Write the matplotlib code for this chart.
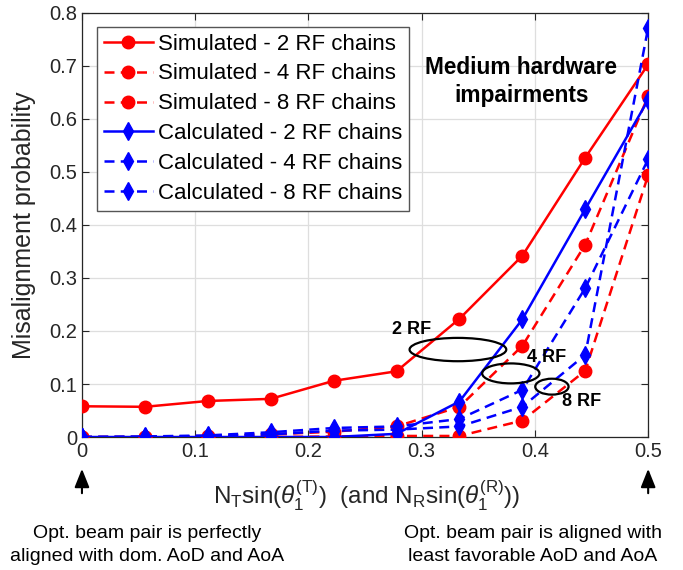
import matplotlib
matplotlib.use("Agg")
import matplotlib.pyplot as plt
from matplotlib.patches import Ellipse

plt.rcParams['font.family'] = ['Liberation Sans', 'DejaVu Sans']
plt.rcParams['mathtext.fontset'] = 'custom'
plt.rcParams['mathtext.rm'] = 'Liberation Sans'
plt.rcParams['mathtext.it'] = 'Liberation Sans:italic'

x = [0/18, 1/18, 2/18, 3/18, 4/18, 5/18, 6/18, 7/18, 8/18, 9/18]
sim2 = [0.058, 0.057, 0.068, 0.072, 0.106, 0.124, 0.223, 0.342, 0.527, 0.703]
sim4 = [0.0, 0.0, 0.002, 0.005, 0.010, 0.020, 0.057, 0.172, 0.363, 0.643]
sim8 = [0.0, 0.0, 0.0, 0.0, 0.001, 0.002, 0.002, 0.031, 0.125, 0.494]
cal2 = [0.0, 0.0, 0.0, 0.0, 0.0, 0.006, 0.067, 0.222, 0.430, 0.636]
cal4 = [0.0, 0.001, 0.003, 0.009, 0.017, 0.020, 0.034, 0.089, 0.281, 0.524]
cal8 = [0.0, 0.0, 0.001, 0.005, 0.012, 0.014, 0.020, 0.057, 0.155, 0.772]
labels = ["Simulated - 2 RF chains", "Simulated - 4 RF chains", "Simulated - 8 RF chains",
          "Calculated - 2 RF chains", "Calculated - 4 RF chains", "Calculated - 8 RF chains"]
xticks = [0, 0.1, 0.2, 0.3, 0.4, 0.5]
yticks = [0, 0.1, 0.2, 0.3, 0.4, 0.5, 0.6, 0.7, 0.8]

fig = plt.figure(figsize=(6.83, 5.70), dpi=100)
ax = fig.add_axes([0.120, 0.2333, 0.829, 0.744])

red = '#ff0000'
blue = '#0000ff'
lw = 1.8
dash = (4, 2.5)
ax.plot(x, sim2, '-', color=red, lw=lw, marker='o', ms=9, label=labels[0], zorder=3)
ax.plot(x, sim4, '--', color=red, lw=lw, marker='o', ms=9, dashes=dash, label=labels[1], zorder=3)
ax.plot(x, sim8, '--', color=red, lw=lw, marker='o', ms=9, dashes=dash, label=labels[2], zorder=3)
ax.plot(x, cal2, '-', color=blue, lw=lw, marker='d', ms=8.7, label=labels[3], zorder=3)
ax.plot(x, cal4, '--', color=blue, lw=lw, marker='d', ms=8.7, dashes=dash, label=labels[4], zorder=3)
ax.plot(x, cal8, '--', color=blue, lw=lw, marker='d', ms=8.7, dashes=dash, label=labels[5], zorder=3)

ax.set_xlim(0, 0.5)
ax.set_ylim(0, 0.8)
ax.set_xticks(xticks)
ax.set_yticks(yticks)
ax.set_xticklabels(['0', '0.1', '0.2', '0.3', '0.4', '0.5'])
ax.set_yticklabels(['0', '0.1', '0.2', '0.3', '0.4', '0.5', '0.6', '0.7', '0.8'])
ax.tick_params(direction='in', length=5, width=0.8, labelsize=14.5, top=True, right=True,
               colors='#262626', labelcolor='#262626')
ax.grid(True, color='#dedede', lw=0.9)
ax.set_axisbelow(True)
for s in ax.spines.values():
    s.set_color('#262626')
    s.set_linewidth(0.9)

ax.set_ylabel('Misalignment probability', fontsize=18, color='#262626')
ax.yaxis.set_label_coords(-0.081, 0.5)
ax.set_xlabel(r'N$_\mathrm{T}$sin($\theta_1^{\mathrm{(T)}}$)  (and N$_\mathrm{R}$sin($\theta_1^{\mathrm{(R)}}$))',
              fontsize=17.5, color='#262626')
ax.xaxis.set_label_coords(0.502, -0.097)

leg = ax.legend(loc='upper left', bbox_to_anchor=(0.027, 0.967), fontsize=16, frameon=True,
                fancybox=False, edgecolor='#555555', framealpha=1, borderpad=0.3,
                labelspacing=0.4, handlelength=2.2, handletextpad=0.25, borderaxespad=0)
leg.get_frame().set_linewidth(1.0)

ax.text(0.388, 0.671, 'Medium hardware\nimpairments', fontsize=16.3, fontweight='bold',
        ha='center', va='center', linespacing=1.25)

ell_kw = dict(fill=False, edgecolor='black', lw=1.6, zorder=4)
ax.add_patch(Ellipse((0.332, 0.165), 0.0854, 0.044, **ell_kw))
ax.add_patch(Ellipse((0.3787, 0.120), 0.0506, 0.0377, **ell_kw))
ax.add_patch(Ellipse((0.415, 0.095), 0.0294, 0.030, **ell_kw))
ax.text(0.291, 0.203, '2 RF', fontsize=13, fontweight='bold', ha='center', va='center', zorder=5)
ax.text(0.4105, 0.150, '4 RF', fontsize=13, fontweight='bold', ha='center', va='center', zorder=5)
ax.text(0.441, 0.067, '8 RF', fontsize=13, fontweight='bold', ha='center', va='center', zorder=5)

# arrows under the axis at x=0 and x=0.5
for xa in (0.0, 0.5):
    ax.annotate('', xy=(xa, -0.060), xytext=(xa, -0.106), xycoords='data', textcoords='data',
                arrowprops=dict(arrowstyle='-|>,head_length=0.7,head_width=0.28', color='black',
                                lw=1.5, mutation_scale=16, shrinkA=0, shrinkB=0),
                annotation_clip=False)

fig.text(147/683, 1 - 545/570, 'Opt. beam pair is perfectly\naligned with dom. AoD and AoA',
         fontsize=14, ha='center', va='center', linespacing=1.4)
fig.text(533/683, 1 - 545/570, 'Opt. beam pair is aligned with\nleast favorable AoD and AoA',
         fontsize=14, ha='center', va='center', linespacing=1.4)

fig.savefig('out.png', dpi=100)
